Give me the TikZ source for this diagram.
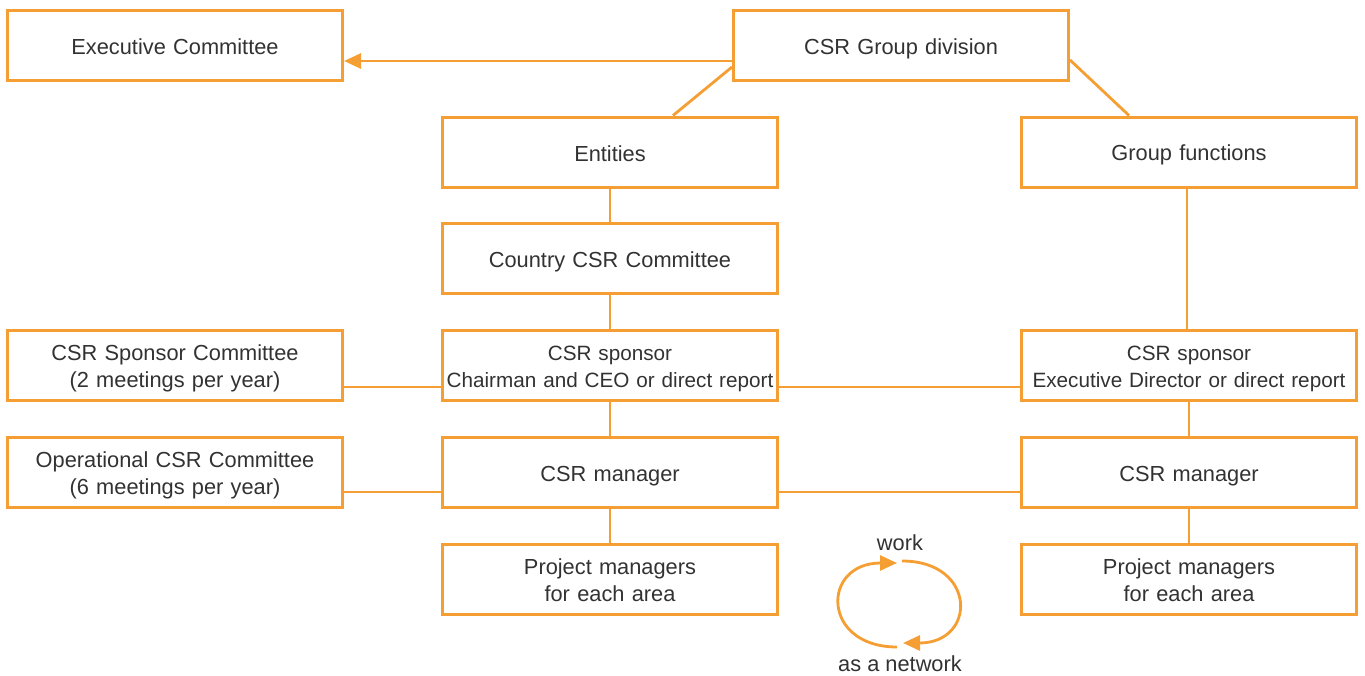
\documentclass[tikz,border=0pt]{standalone}
\usepackage{fontspec}
\setmainfont{Liberation Sans}
\usetikzlibrary{arrows.meta}
\definecolor{org}{RGB}{245,158,51}
\definecolor{txt}{RGB}{50,50,50}
\begin{document}
\begin{tikzpicture}[x=1pt,y=-1pt,
  box/.style={draw=org, line width=3pt, minimum width=335pt, minimum height=70pt,
    text width=335pt, align=center, text=txt, font=\fontsize{21.8}{27}\selectfont, inner sep=0pt,
    execute at begin node={\rule{0pt}{22.5pt}}, execute at end node={\rule[-4pt]{0pt}{4pt}}},
  narrow/.style={font=\fontsize{20.7}{27}\selectfont},
  conn/.style={draw=org, line width=2.8pt},
  lbl/.style={text=txt, font=\fontsize{21.8}{27}\selectfont, inner sep=0pt},
  tip/.style={-{Triangle[length=17pt,width=15pt]}}]
\useasboundingbox (0,0) rectangle (1365,675);
\node[box] (exec) at (175,45.5) {Executive Committee};
\node[box] (grp) at (901,45.5) {CSR Group division};
\node[box] (ent) at (610,152) {Entities};
\node[box] (gf) at (1189,152) {Group functions};
\node[box] (ccc) at (610,258.5) {Country CSR Committee};
\node[box] (ssc) at (175,365) {CSR Sponsor Committee\\(2 meetings per year)};
\node[box,narrow] (lsp) at (610,365) {CSR sponsor\\Chairman and CEO or direct report};
\node[box,narrow] (rsp) at (1189,365) {CSR sponsor\\Executive Director or direct report};
\node[box] (occ) at (175,472.5) {Operational CSR Committee\\(6 meetings per year)};
\node[box] (lcm) at (610,472.5) {CSR manager};
\node[box] (rcm) at (1189,472.5) {CSR manager};
\node[box] (lpm) at (610,579) {Project managers\\for each area};
\node[box] (rpm) at (1189,579) {Project managers\\for each area};
\node[lbl] (work) at (900,543) {work};
\node[lbl] (net) at (900,664) {as a network};

\draw[conn,tip] ([yshift=-15.5pt]grp.west) -- ([yshift=-15.5pt]exec.east);
\draw[conn] ([yshift=-21.5pt]grp.west) -- ([xshift=63pt]ent.north);
\draw[conn] ([yshift=-14.5pt]grp.east) -- ([xshift=-60pt]gf.north);
\draw[conn] (ent) -- (ccc);
\draw[conn] (ccc) -- (lsp);
\draw[conn] (lsp) -- (lcm);
\draw[conn] (lcm) -- (lpm);
\draw[conn] ([xshift=-2pt]gf.south) -- ([xshift=-2pt]rsp.north);
\draw[conn] (rsp) -- (rcm);
\draw[conn] (rcm) -- (rpm);
\draw[conn] ([yshift=-22pt]ssc.east) -- ([yshift=-22pt]lsp.west);
\draw[conn] ([yshift=-22pt]lsp.east) -- ([yshift=-22pt]rsp.west);
\draw[conn] ([yshift=-19.5pt]occ.east) -- ([yshift=-19.5pt]lcm.west);
\draw[conn] ([yshift=-19.5pt]lcm.east) -- ([yshift=-19.5pt]rcm.west);

\coordinate (c1) at (902,561);
\coordinate (c2) at (903,643);
\coordinate (c3) at (897,647);
\coordinate (c4) at (897,563);
\draw[conn,tip] (c1) .. controls (977,561) and (977,643) .. (c2);
\draw[conn,tip] (c3) .. controls (821,647) and (821,563) .. (c4);
\end{tikzpicture}
\end{document}
